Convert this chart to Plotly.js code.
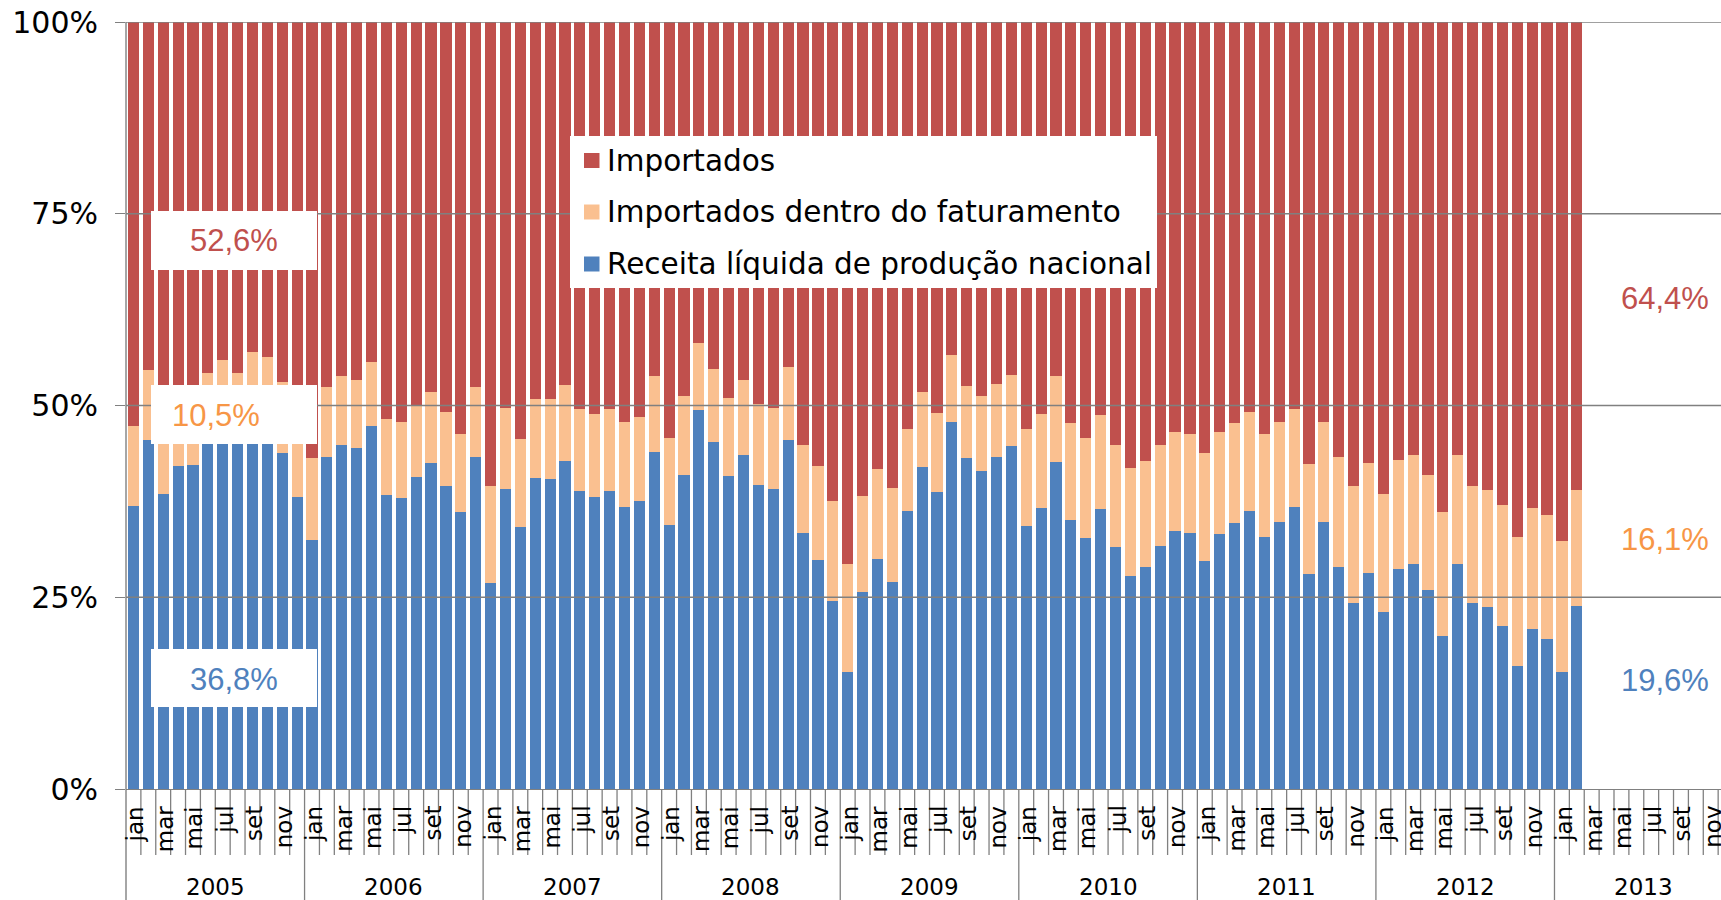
<!DOCTYPE html>
<html>
<head>
<meta charset="utf-8">
<script src="https://cdn.plot.ly/plotly-3.0.1.min.js"></script>
<style>html,body{margin:0;padding:0;background:#fff;overflow:hidden}</style>
</head>
<body>
<div id="chart" style="width:1721px;height:900px"></div>
<script>
// ---------------- DATA ----------------
const years = ['2005','2006','2007','2008','2009','2010','2011','2012','2013'];
const monthNames = ['jan','fev','mar','abr','mai','jun','jul','ago','set','out','nov','dez'];
const seriesNames = ['Receita líquida de produção nacional','Importados dentro do faturamento','Importados'];
const seriesColors = ['#4F81BD','#FAC090','#C0504D'];
const labelColors = ['#4F81BD','#F79646','#C0504D'];
const yTickVals = [0,25,50,75,100];
const yTickText = ['0%','25%','50%','75%','100%'];

// Receita líquida de produção nacional (%), jan/2005 .. fev/2013
const receita = [
36.8,45.5,38.5,42.1,42.3,45.0,46.3,46.0,47.5,46.5,43.8,38.1,
32.4,43.3,44.9,44.4,47.3,38.3,37.9,40.7,42.5,39.5,36.1,43.3,
26.8,39.1,34.2,40.5,40.4,42.8,38.9,38.1,38.9,36.8,37.6,44.0,
34.4,40.9,49.4,45.2,40.8,43.5,39.6,39.1,45.5,33.4,29.9,24.5,
15.3,25.7,30.0,27.0,36.2,42.0,38.7,47.8,43.1,41.5,43.3,44.7,
34.3,36.6,42.6,35.1,32.7,36.5,31.5,27.8,29.0,31.7,33.7,33.4,
29.7,33.2,34.7,36.3,32.8,34.8,36.8,28.0,34.8,29.0,24.3,28.1,
23.1,28.7,29.3,26.0,20.0,29.3,24.3,23.7,21.2,16.1,20.8,19.6,
15.3,23.8];
// Importados dentro do faturamento (%)
const dentro = [
10.5,9.1,11.5,8.4,9.2,9.2,9.6,8.3,9.5,9.8,9.3,11.4,
10.8,9.1,8.9,8.9,8.4,9.9,9.9,9.4,9.2,9.6,10.2,9.1,
12.7,10.6,11.4,10.4,10.4,9.9,10.7,10.8,10.6,11.0,10.9,9.8,
11.4,10.3,8.8,9.5,10.2,9.8,10.6,10.6,9.5,11.5,12.2,13.1,
14.1,12.5,11.7,12.2,10.7,9.7,10.3,8.8,9.5,9.8,9.5,9.3,
12.7,12.3,11.2,12.6,13.0,12.3,13.3,14.0,13.8,13.2,12.8,12.9,
14.1,13.3,13.0,12.8,13.5,13.0,12.7,14.4,13.0,14.3,15.2,14.4,
15.4,14.2,14.2,14.9,16.1,14.2,15.2,15.3,15.8,16.8,15.9,16.1,
17.0,15.2];
// Importados (%)
const importados = [
52.6,45.4,50.0,49.5,48.5,45.8,44.1,45.7,43.0,43.7,46.9,50.5,
56.8,47.6,46.2,46.7,44.3,51.8,52.2,49.9,48.3,50.9,53.7,47.6,
60.5,50.3,54.4,49.1,49.2,47.3,50.4,51.1,50.5,52.2,51.5,46.2,
54.2,48.8,41.8,45.3,49.0,46.7,49.8,50.3,45.0,55.1,57.9,62.4,
70.6,61.8,58.3,60.8,53.1,48.3,51.0,43.4,47.4,48.7,47.2,46.0,
53.0,51.1,46.2,52.3,54.3,51.2,55.2,58.2,57.2,55.1,53.5,53.7,
56.2,53.5,52.3,50.9,53.7,52.2,50.5,57.6,52.2,56.7,60.5,57.5,
61.5,57.1,56.5,59.1,63.9,56.5,60.5,61.0,63.0,67.1,63.3,64.4,
67.7,61.0];

// ---------------- BUILD ----------------
const W = 1721, H = 900;
const ML = 126, MT = 22, MB = 111, MR = 0;
const plotW = W - ML - MR, plotH = H - MT - MB;
const slotPx = 14.88;
const px2x = p => (p - ML) / plotW;        // pixel -> paper x
const py2y = p => (H - MB - p) / plotH;    // pixel -> paper y

const cats = [];
years.forEach(y => monthNames.forEach(m => cats.push(m + '/' + y)));
const xIdx = receita.map((_, i) => i);
const nSlots = cats.length;

const seriesVals = [receita, dentro, importados];
const traces = seriesVals.map((vals, k) => ({
  type: 'bar',
  x: xIdx,
  y: vals,
  name: seriesNames[k],
  text: xIdx.map(i => cats[i]),
  hoverinfo: 'text+y+name',
  textposition: 'none',
  marker: {color: seriesColors[k], line: {width: 0}},
  showlegend: false
}));

const GRAY = '#808080';
const shapes = [];
// gridlines (drawn above the bars)
yTickVals.forEach(v => {
  if (v === 0) return;
  shapes.push({type:'line', xref:'paper', yref:'y', x0:0, x1:1, y0:v, y1:v,
    line:{color:GRAY, width:1.4}, layer:'above'});
});
// month separators and year separators below the axis
for (let i = 1; i < nSlots; i++) {
  const isYear = (i % 12 === 0);
  shapes.push({type:'line', xref:'x', yref:'paper', x0:i-0.5, x1:i-0.5,
    y0:0, y1: isYear ? py2y(905) : py2y(855),
    line:{color:GRAY, width:1.3}, layer:'above'});
}
// left boundary (value axis line continuing down)
shapes.push({type:'line', xref:'paper', yref:'paper', x0:0, x1:0, y0:1, y1:py2y(905),
  line:{color:GRAY, width:1.4}, layer:'above'});

// white label boxes
const boxes = [[151,317,211,270],[151,317,385,444],[151,317,649,707]];
boxes.forEach(b => shapes.push({type:'rect', xref:'paper', yref:'paper',
  x0:px2x(b[0]), x1:px2x(b[1]), y0:py2y(b[3]), y1:py2y(b[2]),
  fillcolor:'#ffffff', line:{width:0}, layer:'above'}));
// legend box
shapes.push({type:'rect', xref:'paper', yref:'paper',
  x0:px2x(570), x1:px2x(1157), y0:py2y(288), y1:py2y(136),
  fillcolor:'#ffffff', line:{width:0}, layer:'above'});
// legend squares (top to bottom: Importados, dentro, Receita)
const legendRowsY = [160.5, 212, 264];
const legendOrder = [2, 1, 0];
legendOrder.forEach((k, r) => {
  const cy = legendRowsY[r];
  shapes.push({type:'rect', xref:'paper', yref:'paper',
    x0:px2x(584), x1:px2x(599.5), y0:py2y(cy+7.5), y1:py2y(cy-7.5),
    fillcolor:seriesColors[k], line:{width:0}, layer:'above'});
});

const annotations = [];
const fmt = v => v.toFixed(1).replace('.', ',') + '%';
const valFont = (c) => ({family:'Liberation Sans, Arial, sans-serif', size:31, color:c});
// left value labels (jan/2005)
annotations.push({xref:'paper', yref:'paper', x:px2x(234), y:py2y(241), text:fmt(importados[0]),
  showarrow:false, xanchor:'center', yanchor:'middle', font:valFont(labelColors[2])});
annotations.push({xref:'paper', yref:'paper', x:px2x(216), y:py2y(415), text:fmt(dentro[0]),
  showarrow:false, xanchor:'center', yanchor:'middle', font:valFont(labelColors[1])});
annotations.push({xref:'paper', yref:'paper', x:px2x(234), y:py2y(679), text:fmt(receita[0]),
  showarrow:false, xanchor:'center', yanchor:'middle', font:valFont(labelColors[0])});
// right value labels (dez/2012)
const lastI = 95;
annotations.push({xref:'paper', yref:'paper', x:px2x(1665), y:py2y(298), text:fmt(importados[lastI]),
  showarrow:false, xanchor:'center', yanchor:'middle', font:valFont(labelColors[2])});
annotations.push({xref:'paper', yref:'paper', x:px2x(1665), y:py2y(539), text:fmt(dentro[lastI]),
  showarrow:false, xanchor:'center', yanchor:'middle', font:valFont(labelColors[1])});
annotations.push({xref:'paper', yref:'paper', x:px2x(1665), y:py2y(680), text:fmt(receita[lastI]),
  showarrow:false, xanchor:'center', yanchor:'middle', font:valFont(labelColors[0])});

// legend texts
legendOrder.forEach((k, r) => {
  annotations.push({xref:'paper', yref:'paper', x:px2x(605), y:py2y(legendRowsY[r]),
    text:seriesNames[k], showarrow:false, xanchor:'left', yanchor:'middle',
    font:{family:'DejaVu Sans, Verdana, sans-serif', size:29.5, color:'#000'}});
});

// month labels (every other month)
for (let i = 0; i < nSlots; i += 2) {
  annotations.push({xref:'x', yref:'paper', x:i, y:py2y(804), text:monthNames[i % 12],
    showarrow:false, textangle:-90, xanchor:'center', yanchor:'top', xshift:2,
    font:{family:'DejaVu Sans, Verdana, sans-serif', size:23, color:'#000'}});
}
// year labels
years.forEach((y, k) => {
  annotations.push({xref:'x', yref:'paper', x:k*12 + 5.5, y:py2y(887), text:y,
    showarrow:false, xanchor:'center', yanchor:'middle',
    font:{family:'DejaVu Sans, Verdana, sans-serif', size:23, color:'#000'}});
});

const layout = {
  width: W, height: H,
  margin: {l:ML, r:MR, t:MT, b:MB, pad:0},
  paper_bgcolor:'#ffffff', plot_bgcolor:'#ffffff',
  barmode:'stack', barnorm:'percent', bargap:0.25,
  showlegend:false,
  xaxis: {
    type:'linear', range:[-0.5, -0.5 + plotW/slotPx],
    showgrid:false, zeroline:false, showticklabels:false, ticks:'',
    showline:true, linecolor:GRAY, linewidth:1.4, fixedrange:true
  },
  yaxis: {
    range:[0,100], tickvals:yTickVals, ticktext:yTickText,
    showgrid:false, zeroline:false, showline:false,
    ticks:'outside', ticklen:10, tickcolor:GRAY, tickwidth:1.4,
    ticklabelstandoff:11,
    tickfont:{family:'DejaVu Sans, Verdana, sans-serif', size:30, color:'#000'},
    fixedrange:true
  },
  shapes: shapes,
  annotations: annotations,
  hovermode:'closest'
};

Plotly.newPlot('chart', traces, layout, {displayModeBar:false, responsive:false});
</script>
</body>
</html>
